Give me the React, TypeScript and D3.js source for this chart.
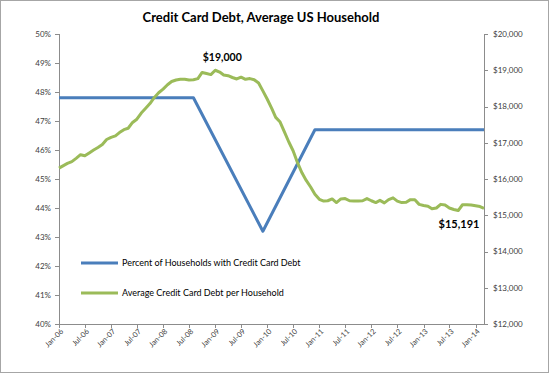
import { useEffect } from 'react'
import * as d3 from 'd3'

// Average credit card debt per household, monthly from Jan-06 to Mar-14 (USD)
const DEBT_START = '2006-01'
const debtValues = [
  16300, 16370, 16430, 16480, 16570, 16670, 16640, 16720, 16800, 16870, 16950, 17090,
  17150, 17190, 17280, 17360, 17400, 17560, 17650, 17820, 17950, 18080, 18250, 18380,
  18480, 18600, 18690, 18730, 18750, 18750, 18730, 18740, 18770, 18940, 18910, 18880,
  19000, 18950, 18870, 18850, 18800, 18760, 18810, 18750, 18770, 18740, 18650, 18430,
  18200, 17950, 17700, 17570, 17300, 17020, 16780, 16450, 16170, 15960, 15780, 15580,
  15440, 15390, 15400, 15450, 15350, 15450, 15460, 15400, 15390, 15390, 15400, 15460,
  15400, 15350, 15410, 15340, 15430, 15480, 15390, 15350, 15360, 15430, 15430, 15300,
  15270, 15250, 15180, 15200, 15300, 15280, 15200, 15160, 15130, 15290, 15290, 15280,
  15260, 15240, 15191
]

// Percent of households with credit card debt (survey points)
const pctMonths = ['2006-01', '2008-08', '2009-12', '2010-12', '2014-03']
const pctValues = [47.8, 47.8, 43.2, 46.7, 46.7]

const leftTicks = [40, 41, 42, 43, 44, 45, 46, 47, 48, 49, 50]
const rightTicks = [12000, 13000, 14000, 15000, 16000, 17000, 18000, 19000, 20000]

const TITLE = 'Credit Card Debt, Average US Household'
const PCT_LABEL = 'Percent of Households with Credit Card Debt'
const DEBT_LABEL = 'Average Credit Card Debt per Household'

const BLUE = '#4a7ebb'
const GREEN = '#9bbb59'
const FONT = 'Lato, "Open Sans", sans-serif'

const parseMonth = d3.utcParse('%Y-%m')

export default function App() {
  useEffect(() => {
    document.body.style.margin = '0'
  }, [])

  const W = 549
  const H = 374
  const plot = { left: 59, right: 484, top: 34, bottom: 324 }

  const start = parseMonth(DEBT_START)!
  const debt = debtValues.map((v, i) => ({ date: d3.utcMonth.offset(start, i), v }))
  const pct = pctMonths.map((m, i) => ({ date: parseMonth(m)!, v: pctValues[i] }))

  const x = d3.scaleUtc()
    .domain([start, debt[debt.length - 1].date])
    .range([plot.left, plot.right])
  const yL = d3.scaleLinear().domain([40, 50]).range([plot.bottom, plot.top])
  const yR = d3.scaleLinear().domain([12000, 20000]).range([plot.bottom, plot.top])

  const xTicks = x.ticks(d3.utcMonth.every(6)!)
  const fmtX = d3.utcFormat('%b-%y')
  const fmtDollar = (v: number) => '$' + d3.format(',')(v)

  const pctLine = d3.line<{ date: Date; v: number }>()
    .x(d => x(d.date))
    .y(d => yL(d.v))
  const debtLine = d3.line<{ date: Date; v: number }>()
    .x(d => x(d.date))
    .y(d => yR(d.v))

  const peak = debt.reduce((a, b) => (b.v > a.v ? b : a))
  const last = debt[debt.length - 1]
  const axisColor = '#8c8c8c'
  const labelColor = '#404040'

  return (
    <svg width={W} height={H} style={{ display: 'block', fontFamily: FONT }}>
      <rect x={0.5} y={0.5} width={W - 1} height={H - 2} fill="#fff" stroke="#a6a6a6" />

      <text x={261} y={22} textAnchor="middle" fontSize={13} fontWeight="bold" fill="#000">
        {TITLE}
      </text>

      {/* left axis */}
      <line x1={plot.left + 0.5} x2={plot.left + 0.5} y1={plot.top} y2={plot.bottom} stroke={axisColor} />
      {leftTicks.map(t => (
        <g key={'l' + t}>
          <line x1={plot.left - 4} x2={plot.left} y1={Math.round(yL(t)) + 0.5} y2={Math.round(yL(t)) + 0.5} stroke={axisColor} />
          <text x={plot.left - 8} y={yL(t)} dy="0.35em" textAnchor="end" fontSize={8} fill={labelColor}>
            {t}%
          </text>
        </g>
      ))}

      {/* right axis */}
      <line x1={plot.right + 0.5} x2={plot.right + 0.5} y1={plot.top} y2={plot.bottom} stroke={axisColor} />
      {rightTicks.map(t => (
        <g key={'r' + t}>
          <line x1={plot.right} x2={plot.right + 4} y1={Math.round(yR(t)) + 0.5} y2={Math.round(yR(t)) + 0.5} stroke={axisColor} />
          <text x={plot.right + 9} y={yR(t)} dy="0.35em" textAnchor="start" fontSize={8} fill={labelColor}>
            {fmtDollar(t)}
          </text>
        </g>
      ))}

      {/* bottom axis */}
      <line x1={plot.left} x2={plot.right + 1} y1={plot.bottom + 0.5} y2={plot.bottom + 0.5} stroke={axisColor} />
      {xTicks.map(t => (
        <g key={'x' + t.getTime()}>
          <line x1={Math.round(x(t)) + 0.5} x2={Math.round(x(t)) + 0.5} y1={plot.bottom} y2={plot.bottom + 4} stroke={axisColor} />
          <text
            transform={`translate(${x(t) + 3},${plot.bottom + 6}) rotate(-45)`}
            textAnchor="end"
            dy="0.35em"
            fontSize={7.5}
            fill={labelColor}
          >
            {fmtX(t)}
          </text>
        </g>
      ))}

      {/* series */}
      <path d={pctLine(pct)!} fill="none" stroke={BLUE} strokeWidth={3} strokeLinejoin="round" />
      <path d={debtLine(debt)!} fill="none" stroke={GREEN} strokeWidth={3} strokeLinejoin="round" />

      {/* annotations */}
      <text x={x(peak.date) + 7} y={yR(peak.v) - 9} textAnchor="middle" fontSize={10.5} fontWeight="bold" fill="#000">
        {fmtDollar(peak.v)}
      </text>
      <text x={x(last.date) - 25} y={yR(last.v) + 20} textAnchor="middle" fontSize={11} fontWeight="bold" fill="#000">
        {fmtDollar(last.v)}
      </text>

      {/* legend */}
      <line x1={81} x2={118} y1={263} y2={263} stroke={BLUE} strokeWidth={3} />
      <text x={122} y={263} dy="0.35em" fontSize={9} fill="#000">{PCT_LABEL}</text>
      <line x1={81} x2={118} y1={293} y2={293} stroke={GREEN} strokeWidth={3} />
      <text x={122} y={293} dy="0.35em" fontSize={9} fill="#000">{DEBT_LABEL}</text>
    </svg>
  )
}
